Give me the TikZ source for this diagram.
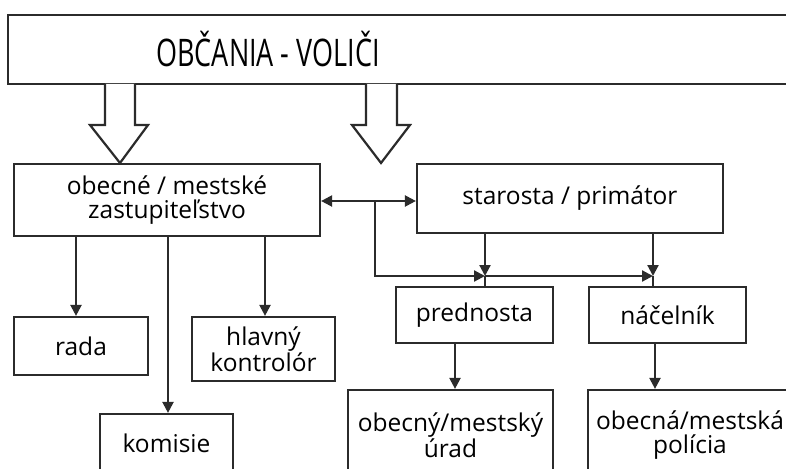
\documentclass[tikz,border=0pt]{standalone}
\usepackage{fontspec}
\setmainfont{Open Sans}
\usetikzlibrary{arrows.meta}
\definecolor{ln}{HTML}{2B2B2B}
\tikzset{
  box/.style={draw=ln, line width=2.2pt, inner sep=0pt, align=center, font=\fontsize{24.5}{24.5}\selectfont, text=black},
  conn/.style={draw=ln, line width=2.2pt},
  arr/.style={conn, -{Triangle[length=11pt,width=11pt]}},
  darr/.style={conn, {Triangle[length=11pt,width=11pt]}-{Triangle[length=11pt,width=11pt]}},
  hollow/.style={draw=ln, line width=2.2pt, fill=white, line join=miter},
}
\begin{document}
\begin{tikzpicture}[x=1pt,y=-1pt]
\useasboundingbox (0,0) rectangle (786,468);
\clip (0,0) rectangle (786,468);
% top box
\node[box, minimum width=792pt, minimum height=69pt] (top) at (404,49.5) {};
\node[font=\fontsize{38}{40}\selectfont, text=black] (toptext) at (268,49) {\scalebox{0.71}[1]{OBČANIA - VOLIČI}};
% main boxes
\node[box, minimum width=306pt, minimum height=72pt] (zast) at (167,200) {obecné / mestské\\zastupiteľstvo};
\node[box, minimum width=306pt, minimum height=69pt] (star) at (570,198.5) {starosta / primátor};
\node[box, minimum width=134pt, minimum height=58pt] (rada) at (81,346) {rada};
\node[box, minimum width=143pt, minimum height=64pt] (hk) at (263.5,349) {hlavný\\kontrolór};
\node[box, minimum width=133pt, minimum height=58pt] (kom) at (166.5,443) {komisie};
\node[box, minimum width=157pt, minimum height=56pt] (pred) at (474.5,315) {prednosta};
\node[box, minimum width=157pt, minimum height=56pt] (nac) at (667.5,315) {náčelník};
\node[box, minimum width=205pt, minimum height=90pt] (urad) at (450.5,435) {obecný/mestský\\úrad};
\node[box, minimum width=204pt, minimum height=90pt] (pol) at (690,435) {obecná/mestská\\polícia};
% hollow arrows
\draw[hollow] (105,84) -- (105,125) -- (90,125) -- (120,163) -- (148,125) -- (135,125) -- (135,84);
\draw[hollow] (366,84) -- (366,125) -- (352,125) -- (381,163) -- (410,125) -- (397,125) -- (397,84);
% connectors
\coordinate (b1) at (375,201);
\coordinate (j0) at (375,276);
\coordinate (ja) at (485,276);
\coordinate (jb) at (653,276);
\draw[darr] (zast.east |- b1) -- (star.west |- b1);
\draw[arr] (b1) -- (j0) -- (ja);
\draw[arr] (ja) -- (jb);
\draw[arr] (star.south -| ja) -- (ja);
\draw[arr] (star.south -| jb) -- (jb);
\draw[conn] (ja) -- (pred.north -| ja);
\draw[conn] (jb) -- (nac.north -| jb);
\draw[arr] (pred.south -| 455,0) -- (urad.north -| 455,0);
\draw[arr] (nac.south -| 655,0) -- (pol.north -| 655,0);
\draw[arr] (zast.south -| 76,0) -- (rada.north -| 76,0);
\draw[arr] (zast.south -| 168,0) -- (kom.north -| 168,0);
\draw[arr] (zast.south -| 265,0) -- (hk.north -| 265,0);
\end{tikzpicture}
\end{document}
